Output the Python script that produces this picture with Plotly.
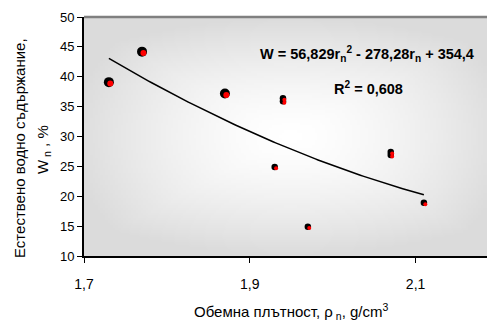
import base64, struct, zlib
import numpy as np
import plotly.graph_objects as go

# ---- data ----
density = [1.73, 1.77, 1.87, 1.94, 1.94, 1.93, 1.97, 2.07, 2.07, 2.11]
water = [39.1, 44.2, 37.2, 36.4, 35.9, 24.9, 14.9, 27.4, 26.9, 18.9]
# trendline coefficients as printed on the chart
coef_a, coef_b, coef_c = 56.829, -278.28, 354.4
x_ticks = [1.7, 1.9, 2.1]
y_ticks = [10, 15, 20, 25, 30, 35, 40, 45, 50]

# ---- styles ----
black_sizes = [10, 10, 10, 6.5, 6.5, 6.5, 6.5, 6.5, 6.5, 6.5]
red_sizes = [6, 6, 6, 4, 4, 4, 4, 4, 4, 4]

W, H = 487, 324
ml, mr, mt, mb = 84, 0, 17, 68
pw, ph = W - ml - mr, H - mt - mb
px_per_x = 829.0
x_range = [1.7, 1.7 + pw / px_per_x]
y_range = [10, 50]
px_per_y = ph / (y_range[1] - y_range[0])

# trendline from the printed equation
xt = np.linspace(min(density), max(density), 120)
yt = coef_a * xt ** 2 + coef_b * xt + coef_c


# ---- background gradient image (light centre, grey edges) ----
def make_png(w, h):
    cx, cy = (291 - ml) / pw * w, 0.5 * h
    rows = []
    for j in range(h):
        row = bytearray([0])
        for i in range(w):
            dx = abs(i + 0.5 - cx) / (w * 0.55)
            dy = abs(j + 0.5 - cy) / (h * 0.5)
            t = min(1.0, (dx ** 2 + dy ** 2) ** 0.5 * 0.6 + max(dx, dy) * 0.4)
            v = int(round(255 - 36 * t ** 1.5))
            row += bytes([v, v, v])
        rows.append(bytes(row))
    raw = b"".join(rows)

    def chunk(tag, data):
        c = struct.pack(">I", len(data)) + tag + data
        return c + struct.pack(">I", zlib.crc32(tag + data) & 0xFFFFFFFF)

    png = b"\x89PNG\r\n\x1a\n"
    png += chunk(b"IHDR", struct.pack(">IIBBBBB", w, h, 8, 2, 0, 0, 0))
    png += chunk(b"IDAT", zlib.compress(raw, 9))
    png += chunk(b"IEND", b"")
    return "data:image/png;base64," + base64.b64encode(png).decode()


bg = make_png(160, 96)

fig = go.Figure()
fig.add_trace(go.Scatter(x=xt, y=yt, mode="lines",
                         line=dict(color="black", width=1.5), hoverinfo="skip",
                         showlegend=False))
fig.add_trace(go.Scatter(x=density, y=water, mode="markers",
                         marker=dict(color="#000000", size=black_sizes, opacity=1,
                                     line=dict(width=0)),
                         showlegend=False))
fig.add_trace(go.Scatter(x=density, y=water, mode="markers", xaxis="x2", yaxis="y2",
                         marker=dict(color="#ff0000", size=red_sizes, opacity=1,
                                     line=dict(width=0)),
                         showlegend=False))

sx = 1.4 / px_per_x
sy = 1.4 / px_per_y

font_main = "Liberation Sans, Arial, sans-serif"


def px_x(p):
    return (p - ml) / pw


def px_y(p):
    return 1 - (p - mt) / ph


fig.update_layout(
    width=W, height=H,
    margin=dict(l=ml, r=mr, t=mt, b=mb),
    paper_bgcolor="white",
    plot_bgcolor="rgba(0,0,0,0)",
    separators=", ",
    font=dict(family=font_main, color="black"),
    xaxis=dict(range=x_range, tickvals=x_ticks, tickformat=".1f", automargin=False,
               showgrid=False, zeroline=False, showline=True, linecolor="black",
               linewidth=2, ticks="outside", ticklen=5, tickcolor="black",
               tickwidth=1, tickfont=dict(size=14), ticklabelstandoff=9),
    yaxis=dict(range=y_range, tickvals=y_ticks, showgrid=False, zeroline=False,
               automargin=False,
               showline=True, linecolor="black", linewidth=2, ticks="outside",
               ticklen=5, tickcolor="black", tickwidth=1, tickfont=dict(size=13)),
    xaxis2=dict(overlaying="x", range=[x_range[0] - sx, x_range[1] - sx], visible=False),
    yaxis2=dict(overlaying="y", range=[y_range[0] + sy, y_range[1] + sy], visible=False),
    images=[dict(source=bg, xref="paper", yref="paper", x=0, y=1, sizex=1, sizey=1,
                 sizing="stretch", layer="below", xanchor="left", yanchor="top")],
    shapes=[dict(type="line", xref="paper", yref="paper", x0=0, x1=1, y0=1, y1=1,
                 line=dict(color="#808080", width=2.5))],
    annotations=[
        dict(text="<b>W = 56,829r<sub>n</sub><sup>2</sup> - 278,28r<sub>n</sub> + 354,4</b>",
             xref="paper", yref="paper", x=px_x(367), y=px_y(54),
             showarrow=False, font=dict(size=14.5, family=font_main), xanchor="center",
             yanchor="middle"),
        dict(text="<b>R<sup>2</sup> = 0,608</b>",
             xref="paper", yref="paper", x=px_x(368), y=px_y(88),
             showarrow=False, font=dict(size=14.5, family=font_main), xanchor="center",
             yanchor="middle"),
        dict(text="Обемна плътност, ρ<sub> n</sub>, g/cm<sup>3</sup>",
             xref="paper", yref="paper", x=px_x(291), y=px_y(311),
             showarrow=False, font=dict(size=15, family=font_main), xanchor="center",
             yanchor="middle"),
        dict(text="Естествено водно съдържание,",
             xref="paper", yref="paper", x=px_x(19), y=px_y(148), textangle=-90,
             showarrow=False, font=dict(size=15, family=font_main), xanchor="center",
             yanchor="middle"),
        dict(text="W<sub> n</sub> , %",
             xref="paper", yref="paper", x=px_x(43), y=px_y(150), textangle=-90,
             showarrow=False, font=dict(size=15, family=font_main), xanchor="center",
             yanchor="middle"),
    ],
)

fig.write_html("out.html", config={"displayModeBar": False},
               post_script="document.body.style.margin='0';"
                           "document.body.style.overflow='hidden';")
